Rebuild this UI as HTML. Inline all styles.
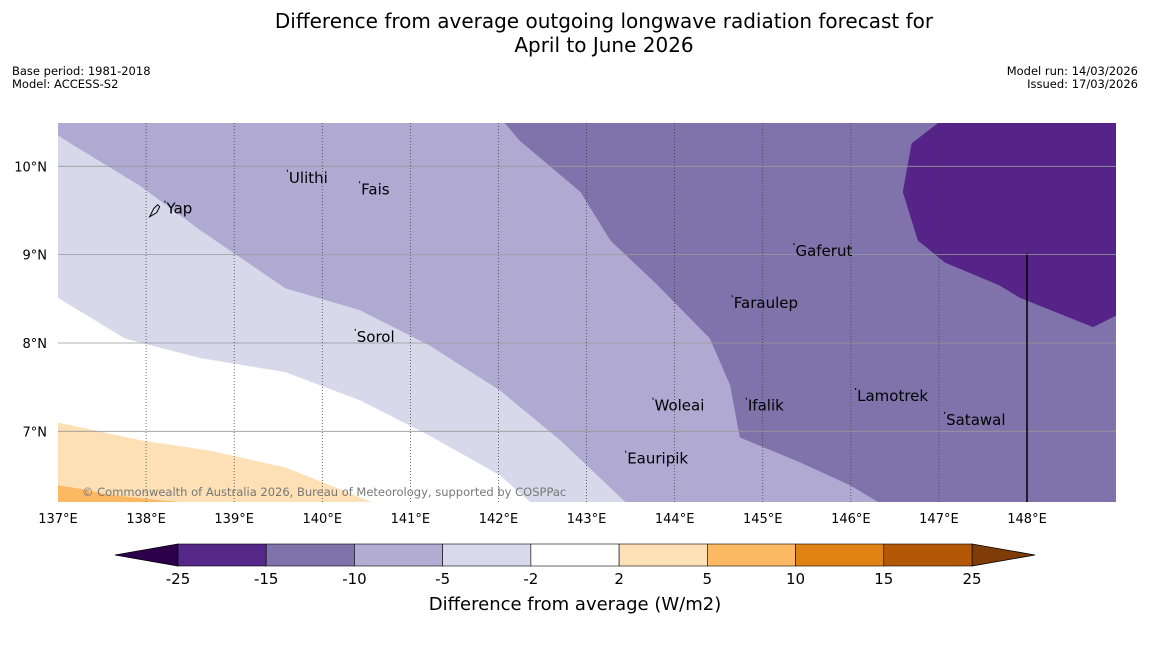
<!DOCTYPE html>
<html><head><meta charset="utf-8">
<style>
body{margin:0;background:#fff;width:1150px;height:644px;overflow:hidden;font-family:"Liberation Sans","DejaVu Sans",sans-serif}
</style></head>
<body>
<svg id="chart" width="1150" height="644" xmlns="http://www.w3.org/2000/svg" font-family="DejaVu Sans, Liberation Sans, sans-serif">
<text x="604" y="28" font-size="20" text-anchor="middle">Difference from average outgoing longwave radiation forecast for</text>
<text x="604" y="52" font-size="20" text-anchor="middle">April to June 2026</text>
<text x="12" y="75" font-size="11.5">Base period: 1981-2018</text>
<text x="12" y="88" font-size="11.5">Model: ACCESS-S2</text>
<text x="1138" y="75" font-size="11.5" text-anchor="end">Model run: 14/03/2026</text>
<text x="1138" y="88" font-size="11.5" text-anchor="end">Issued: 17/03/2026</text>
<g id="map"></g>
<g id="cbar"></g>
<text x="575" y="610" font-size="18" text-anchor="middle">Difference from average (W/m2)</text>
</svg>
<script>
const lonTicks=[137,138,139,140,141,142,143,144,145,146,147,148];
const latTicks=[7,8,9,10];
const bandLight=[[137,8.51],[137.76,8.05],[138.61,7.83],[139.58,7.67],[140.43,7.35],[141.22,6.95],[142.02,6.50],[142.36,6.2],[149.01,6.2],[149.01,10.49],[137,10.49]];
const bandMedium=[[137,10.35],[137.14,10.26],[137.93,9.78],[138.61,9.28],[139.58,8.62],[140.43,8.37],[141.22,7.97],[142.02,7.46],[142.70,6.90],[143.44,6.20],[149.01,6.2],[149.01,10.49],[137,10.49]];
const bandDark=[[142.07,10.49],[142.24,10.29],[142.93,9.71],[143.27,9.16],[143.78,8.68],[144.40,8.05],[144.63,7.52],[144.74,6.93],[145.42,6.65],[145.99,6.39],[146.31,6.2],[149.01,6.2],[149.01,10.49]];
const bandDarkest=[[146.99,10.49],[146.69,10.26],[146.59,9.71],[146.76,9.16],[147.07,8.91],[147.69,8.65],[147.92,8.51],[148.75,8.18],[149.01,8.31],[149.01,10.49]];
const bandOrangeLight=[[137,7.10],[137.93,6.90],[138.73,6.78],[139.58,6.59],[140.09,6.39],[140.56,6.2],[137,6.2]];
const bandOrangeDark=[[137,6.39],[137.25,6.35],[137.59,6.28],[138.16,6.22],[138.38,6.2],[137,6.2]];
const placeNames=["Yap","Ulithi","Fais","Gaferut","Faraulep","Sorol","Woleai","Ifalik","Lamotrek","Satawal","Eauripik"];
const placeLon=[138.22,139.61,140.43,145.36,144.66,140.38,143.76,144.82,146.06,147.07,143.45];
const placeLat=[9.52,9.87,9.74,9.04,8.45,8.07,7.29,7.29,7.40,7.13,6.69];
const cbLabels=["-25","-15","-10","-5","-2","2","5","10","15","25"];
const cbColors=["#542788","#8073ac","#b2abd2","#d8daeb","#ffffff","#fee0b6","#fdb863","#e08214","#b35806"];
const NS="http://www.w3.org/2000/svg";
const X0=58,X1=1116,Y0=123,Y1=502;
const LON0=137,LON1=149.01,LAT0=6.2,LAT1=10.49;
const xs=l=>X0+(l-LON0)/(LON1-LON0)*(X1-X0);
const ys=l=>Y1-(l-LAT0)/(LAT1-LAT0)*(Y1-Y0);
function mk(t,a,p){const e=document.createElementNS(NS,t);for(const k in a)e.setAttribute(k,a[k]);p.appendChild(e);return e;}
const map=document.getElementById('map');
mk('rect',{x:X0,y:Y0,width:X1-X0,height:Y1-Y0,fill:'#ffffff'},map);
const bands=[[bandLight,'#d8d8ea','band-minus5-minus2'],[bandMedium,'#b0aad2','band-minus10-minus5'],[bandDark,'#8073ab','band-minus15-minus10'],[bandDarkest,'#562488','band-minus25-minus15'],[bandOrangeLight,'#fde0b6','band-2-5'],[bandOrangeDark,'#fdb863','band-5-10']];
bands.forEach(b=>{const p=mk('polygon',{points:b[0].map(q=>xs(q[0])+','+ys(q[1])).join(' '),fill:b[1]},map);

});
latTicks.forEach(v=>{const y=ys(v);
const l=mk('line',{x1:X0,x2:X1,y1:y,y2:y,stroke:'#999',"stroke-width":0.8},map);


const t=mk('text',{x:X0-11,y:y+5,"font-size":13,"text-anchor":"end"},map);t.textContent=v+'°N';

});
lonTicks.forEach(v=>{const x=xs(v);
if(v>137&&v<148){const l=mk('line',{x1:x,x2:x,y1:Y0,y2:Y1,stroke:'#333',"stroke-width":0.7,"stroke-dasharray":"1,2"},map);

}
const t=mk('text',{x:x,y:523,"font-size":13,"text-anchor":"middle"},map);t.textContent=v+'°E';

});
const bl=mk('line',{x1:xs(148),x2:xs(148),y1:ys(9),y2:Y1,stroke:'#000',"stroke-width":1.5},map);


const yi=mk('path',{d:`M${xs(138.12)-7},${ys(9.52)+8} l4,-8 l4,-4 l2,2 l-3,6 z`,fill:'none',stroke:'#000',"stroke-width":1},map);


placeNames.forEach((n,i)=>{const x=xs(placeLon[i]),y=ys(placeLat[i]);
const d=mk('rect',{x:x-1,y:y-8,width:1,height:2,fill:'#000'},map);


const t=mk('text',{x:x+1,y:y+5,"font-size":15},map);t.textContent=n;

});
const cr=mk('text',{x:82,y:496,"font-size":11.5,fill:'#777'},map);cr.textContent='© Commonwealth of Australia 2026, Bureau of Meteorology, supported by COSPPac';


const cb=document.getElementById('cbar');
const CX0=178,CX1=972,CY=544,CH=22,seg=(CX1-CX0)/cbColors.length;
const lt=mk('polygon',{points:`${CX0},${CY} 115,${CY+CH/2} ${CX0},${CY+CH}`,fill:'#2d004b',stroke:'#000',"stroke-width":0.8},cb);


const rt=mk('polygon',{points:`${CX1},${CY} 1035,${CY+CH/2} ${CX1},${CY+CH}`,fill:'#7f3b08',stroke:'#000',"stroke-width":0.8},cb);


cbColors.forEach((c,i)=>{const r=mk('rect',{x:CX0+i*seg,y:CY,width:seg,height:CH,fill:c,stroke:'#000',"stroke-width":0.6},cb);

});
cbLabels.forEach((s,i)=>{const t=mk('text',{x:CX0+i*seg,y:584,"font-size":15,"text-anchor":"middle"},cb);t.textContent=s;

});
</script>
</body></html>
